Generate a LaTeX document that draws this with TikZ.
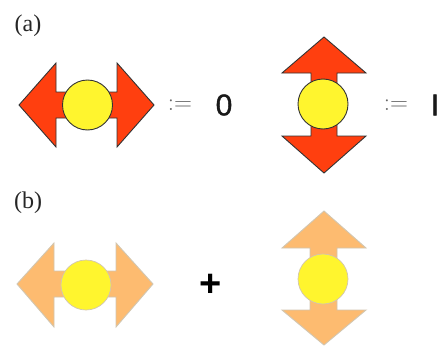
\documentclass[tikz,border=0pt]{standalone}
\usepackage{fontspec}
\setmainfont{Liberation Serif}
\setsansfont{Liberation Sans}
\newfontfamily\bitfont[FakeBold=1.2]{Liberation Sans}
\usetikzlibrary{positioning}
\definecolor{ArrowRed}{HTML}{FF3F0F}
\definecolor{ArrowTan}{HTML}{FDBB70}
\definecolor{CoreYellow}{HTML}{FFF52E}
\definecolor{PaleEdge}{HTML}{D2C6B0}
\definecolor{DimGray}{HTML}{666666}
\tikzset{
  redarrow/.style={draw=black!80,fill=ArrowRed,line width=0.9pt,line join=miter},
  tanarrow/.style={draw=PaleEdge,fill=ArrowTan,line width=0.9pt,line join=miter},
  redcore/.style={circle,draw=black!80,fill=CoreYellow,line width=0.9pt,inner sep=0pt,minimum size=50pt},
  tancore/.style={circle,draw=PaleEdge,fill=CoreYellow,line width=0.7pt,inner sep=0pt,minimum size=50pt},
  partlabel/.style={font=\fontsize{24}{24}\selectfont,text=black!85},
  assign/.style={font=\fontsize{29}{29}\selectfont,text=DimGray},
  bitlabel/.style={font=\bitfont\fontsize{30}{30}\selectfont,text=black!90}
}
\begin{document}
\begin{tikzpicture}[x=1pt,y=-1pt]
  \useasboundingbox (0,0) rectangle (443,345);
  \fill[white] (0,0) rectangle (443,345);
  % (a)
  \node[partlabel] (parta) at (28,26) {(a)};
  \draw[redarrow] (19,105)--(56,63)--(56,92)--(117,92)--(117,63)--(154,105)--(117,147)--(117,118)--(56,118)--(56,147)--cycle;
  \node[redcore] (corea) at (87.5,105) {};
  \node[assign] (assigna) at (180,105) {$:=$};
  \node[bitlabel] (zero) at (224,105) {0};
  \draw[redarrow] (324,37)--(366,73)--(337,73)--(337,136)--(366,136)--(324,173)--(282,136)--(311,136)--(311,73)--(282,73)--cycle;
  \node[redcore] (coreb) at (323,104) {};
  \node[assign] (assignb) at (396,105) {$:=$};
  \node[bitlabel] (one) at (435,105) {I};
  % (b)
  \node[partlabel] (partb) at (28,203) {(b)};
  \draw[tanarrow] (17,284)--(54,243)--(54,271)--(116,271)--(116,243)--(153,284)--(116,327)--(116,297)--(54,297)--(54,327)--cycle;
  \node[tancore] (corec) at (86,285) {};
  \node[font=\sffamily\bfseries\fontsize{38}{38}\selectfont] (plus) at (211,285) {+};
  \draw[tanarrow] (324,211)--(366,248)--(337,248)--(337,310)--(366,310)--(324,345)--(282,310)--(310,310)--(310,248)--(282,248)--cycle;
  \node[tancore] (cored) at (323,279) {};
\end{tikzpicture}
\end{document}
